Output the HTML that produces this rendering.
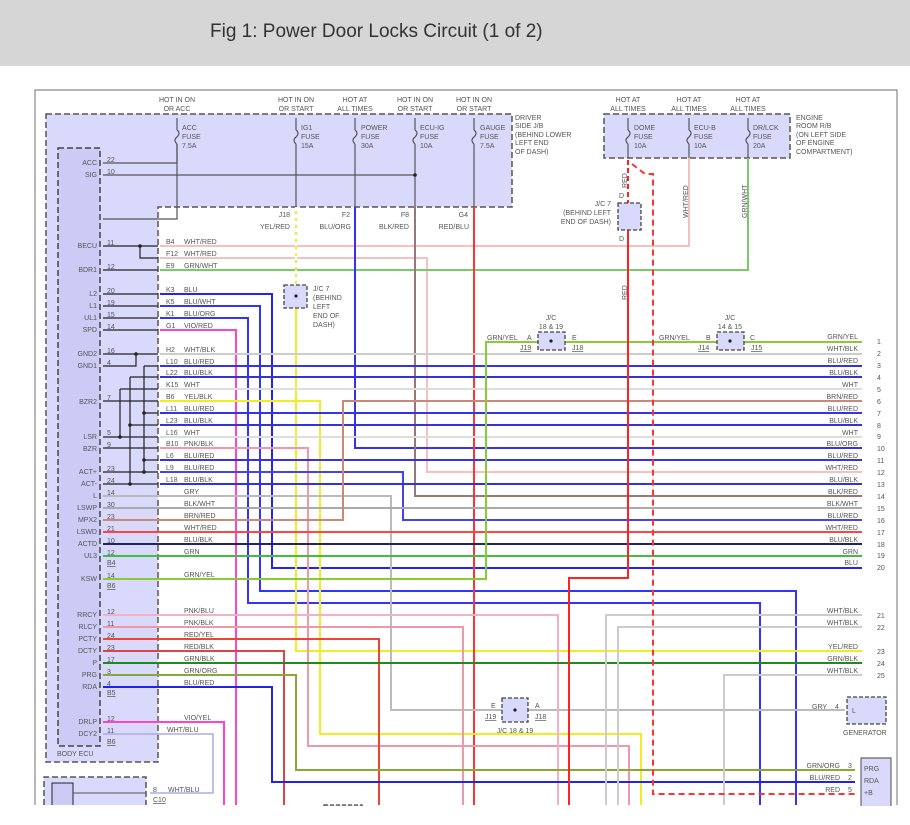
<!DOCTYPE html>
<html><head><meta charset="utf-8"><style>
body{margin:0;width:910px;height:820px;overflow:hidden;background:#fff;font-family:"Liberation Sans",sans-serif}
svg text{font-family:"Liberation Sans",sans-serif;font-size:7px;fill:#555}
.r{text-anchor:end}
.u{text-decoration:underline}
</style></head><body>
<svg width="910" height="820" viewBox="0 0 910 820" xmlns="http://www.w3.org/2000/svg">
<rect x="0" y="0" width="910" height="66" fill="#d6d6d6"/>
<text x="210" y="37" style="font-size:19px;fill:#333">Fig 1: Power Door Locks Circuit (1 of 2)</text>
<path d="M35 805V90H897V805" fill="none" stroke="#888" stroke-width="1.2"/>
<path d="M46 114H512V207H158V762H46Z" fill="#d9d9fc" stroke="#555" stroke-width="1.5" stroke-dasharray="6,3"/>
<rect x="58" y="148" width="42" height="598" fill="#cbcbf6" stroke="#444" stroke-width="1.5" stroke-dasharray="6,3"/>
<text x="57" y="756">BODY ECU</text>
<rect x="604" y="114" width="186" height="44" fill="#d9d9fc" stroke="#555" stroke-width="1.5" stroke-dasharray="6,3"/>
<path d="M44 805V777H146V805" fill="#d9d9fc" stroke="#555" stroke-width="1.5" stroke-dasharray="6,3"/>
<path d="M52 805V783H73V805" fill="#cbcbf6" stroke="#222" stroke-width="1"/>
<line x1="73" y1="793" x2="146" y2="793" stroke="#555"/>
<text x="153" y="792">8</text><text x="153" y="802" class="u">C10</text>
<g>
<text x="177" y="102" style="text-anchor:middle">HOT IN ON</text><text x="177" y="111" style="text-anchor:middle">OR ACC</text>
<text x="296" y="102" style="text-anchor:middle">HOT IN ON</text><text x="296" y="111" style="text-anchor:middle">OR START</text>
<text x="355" y="102" style="text-anchor:middle">HOT AT</text><text x="355" y="111" style="text-anchor:middle">ALL TIMES</text>
<text x="415" y="102" style="text-anchor:middle">HOT IN ON</text><text x="415" y="111" style="text-anchor:middle">OR START</text>
<text x="474" y="102" style="text-anchor:middle">HOT IN ON</text><text x="474" y="111" style="text-anchor:middle">OR START</text>
<text x="628" y="102" style="text-anchor:middle">HOT AT</text><text x="628" y="111" style="text-anchor:middle">ALL TIMES</text>
<text x="689" y="102" style="text-anchor:middle">HOT AT</text><text x="689" y="111" style="text-anchor:middle">ALL TIMES</text>
<text x="748" y="102" style="text-anchor:middle">HOT AT</text><text x="748" y="111" style="text-anchor:middle">ALL TIMES</text>
<text x="182" y="130">ACC</text><text x="182" y="139">FUSE</text><text x="182" y="148">7.5A</text>
<text x="301" y="130">IG1</text><text x="301" y="139">FUSE</text><text x="301" y="148">15A</text>
<text x="361" y="130">POWER</text><text x="361" y="139">FUSE</text><text x="361" y="148">30A</text>
<text x="420" y="130">ECU-IG</text><text x="420" y="139">FUSE</text><text x="420" y="148">10A</text>
<text x="480" y="130">GAUGE</text><text x="480" y="139">FUSE</text><text x="480" y="148">7.5A</text>
<text x="515" y="120">DRIVER</text><text x="515" y="128">SIDE J/B</text><text x="515" y="137">(BEHIND LOWER</text><text x="515" y="145">LEFT END</text><text x="515" y="154">OF DASH)</text>
<text x="634" y="130">DOME</text><text x="634" y="139">FUSE</text><text x="634" y="148">10A</text>
<text x="694" y="130">ECU-B</text><text x="694" y="139">FUSE</text><text x="694" y="148">10A</text>
<text x="753" y="130">DR/LCK</text><text x="753" y="139">FUSE</text><text x="753" y="148">20A</text>
<text x="796" y="120">ENGINE</text><text x="796" y="128">ROOM R/B</text><text x="796" y="137">(ON LEFT SIDE</text><text x="796" y="145">OF ENGINE</text><text x="796" y="154">COMPARTMENT)</text>
<text x="290" y="217" class="r">J18</text><text x="350" y="217" class="r">F2</text><text x="409" y="217" class="r">F8</text><text x="468" y="217" class="r">G4</text>
<text x="290" y="229" class="r">YEL/RED</text><text x="351" y="229" class="r">BLU/ORG</text><text x="409" y="229" class="r">BLK/RED</text><text x="469" y="229" class="r">RED/BLU</text>
</g>
<g stroke="#555" stroke-width="1.2" fill="none">
<path d="M177 118V130M177 144V219H103"/>
<path d="M296 118V130M296 144V207M355 118V130M355 144V207M415 118V130M415 144V207M474 118V130M474 144V207"/>
<path d="M628 118V130M628 144V158M689 118V130M689 144V158M748 118V130M748 144V158"/>
<path d="M177 130q4 3 0 7q-4 3 0 7M296 130q4 3 0 7q-4 3 0 7M355 130q4 3 0 7q-4 3 0 7M415 130q4 3 0 7q-4 3 0 7M474 130q4 3 0 7q-4 3 0 7M628 130q4 3 0 7q-4 3 0 7M689 130q4 3 0 7q-4 3 0 7M748 130q4 3 0 7q-4 3 0 7"/>
<path d="M103 163H177V144M103 175H415"/>
</g>
<circle cx="415" cy="175" r="1.8" fill="#222"/>
<g>
<text x="97" y="165" class="r">ACC</text><text x="97" y="177" class="r">SIG</text>
<text x="97" y="248" class="r">BECU</text><text x="97" y="272" class="r">BDR1</text>
<text x="97" y="296" class="r">L2</text><text x="97" y="308" class="r">L1</text><text x="97" y="320" class="r">UL1</text><text x="97" y="332" class="r">SPD</text>
<text x="97" y="356" class="r">GND2</text><text x="97" y="368" class="r">GND1</text><text x="97" y="404" class="r">BZR2</text>
<text x="97" y="439" class="r">LSR</text><text x="97" y="451" class="r">BZR</text><text x="97" y="474" class="r">ACT+</text><text x="97" y="486" class="r">ACT-</text>
<text x="97" y="498" class="r">L</text><text x="97" y="510" class="r">LSWP</text><text x="97" y="522" class="r">MPX2</text><text x="97" y="534" class="r">LSWD</text>
<text x="97" y="546" class="r">ACTD</text><text x="97" y="558" class="r">UL3</text><text x="97" y="581" class="r">KSW</text>
<text x="97" y="617" class="r">RRCY</text><text x="97" y="629" class="r">RLCY</text><text x="97" y="641" class="r">PCTY</text><text x="97" y="653" class="r">DCTY</text>
<text x="97" y="665" class="r">P</text><text x="97" y="677" class="r">PRG</text><text x="97" y="689" class="r">RDA</text>
<text x="97" y="724" class="r">DRLP</text><text x="97" y="736" class="r">DCY2</text>
<text x="107" y="162">22</text><text x="107" y="174">10</text><text x="107" y="245">11</text><text x="107" y="269">12</text>
<text x="107" y="293">20</text><text x="107" y="305">19</text><text x="107" y="317">15</text><text x="107" y="329">14</text>
<text x="107" y="353">16</text><text x="107" y="365">4</text><text x="107" y="400">7</text><text x="107" y="435">5</text><text x="107" y="447">9</text>
<text x="107" y="471">23</text><text x="107" y="483">24</text><text x="107" y="495">14</text><text x="107" y="507">30</text><text x="107" y="519">23</text>
<text x="107" y="531">21</text><text x="107" y="543">10</text><text x="107" y="555">12</text><text x="107" y="578">14</text>
<text x="107" y="614">12</text><text x="107" y="626">11</text><text x="107" y="638">24</text><text x="107" y="650">23</text>
<text x="107" y="662">17</text><text x="107" y="674">3</text><text x="107" y="686">4</text><text x="107" y="721">12</text><text x="107" y="733">11</text>
<text x="107" y="565" class="u">B4</text><text x="107" y="588" class="u">B6</text><text x="107" y="695" class="u">B5</text><text x="107" y="744" class="u">B6</text>
</g>
<g stroke="#222" stroke-width="1.2" fill="none">
<path d="M103 246H158M140 246V258H158M103 270H158M103 294H158M103 306H158M103 318H158M103 330H158"/>
<path d="M103 354H158M136 354V366H103M144 366H158M144 366V472M144 413H158M144 460H158"/>
<path d="M130 377H158M130 377V484M130 425H158M120 389H158M120 389V437"/>
<path d="M103 401H158M103 437H158M103 448H158M103 472H158M103 484H158"/>
</g>
<g fill="#222"><circle cx="140" cy="246" r="1.8"/><circle cx="136" cy="354" r="1.8"/><circle cx="144" cy="413" r="1.8"/><circle cx="144" cy="460" r="1.8"/><circle cx="144" cy="472" r="1.8"/><circle cx="130" cy="425" r="1.8"/><circle cx="130" cy="484" r="1.8"/><circle cx="120" cy="437" r="1.8"/></g>
<g fill="none" stroke-width="2">
<path d="M160 246H689V158" stroke="#f4c0c0"/>
<path d="M160 258H427V472H862" stroke="#f4c0c0"/>
<path d="M160 270H748V158" stroke="#7c6"/>
<path d="M160 294H272V568H862" stroke="#22f"/>
<path d="M160 306H260V591H796V805" stroke="#33f"/>
<path d="M160 318H248V603H760V805" stroke="#33f"/>
<path d="M160 330H236V805" stroke="#f4c"/>
<path d="M296 207V285M296 308V651H862" stroke="#ee2"/>
<path d="M296 207V285" stroke="#fff" stroke-dasharray="4,3"/>
<path d="M355 207V448H862" stroke="#33e"/>
<path d="M415 207V496H862" stroke="#977"/>
<path d="M474 207V805" stroke="#f33"/>
<path d="M160 354H862" stroke="#ccc"/>
<path d="M160 366H862" stroke="#33e"/>
<path d="M160 377H862" stroke="#33d"/>
<path d="M160 389H862" stroke="#ddd"/>
<path d="M160 401H320V734H641V805" stroke="#ee2"/>
<path d="M160 413H862" stroke="#33e"/>
<path d="M160 425H862" stroke="#33d"/>
<path d="M160 437H862" stroke="#ddd"/>
<path d="M160 448H308V746H629V805" stroke="#e9a"/>
<path d="M160 460H862" stroke="#33e"/>
<path d="M160 472H403V520H862" stroke="#44e"/>
<path d="M160 484H862" stroke="#33d"/>
<path d="M103 496H391V710H845" stroke="#bbb"/>
<path d="M103 508H862" stroke="#aaa"/>
<path d="M103 520H343V401H862" stroke="#c87"/>
<path d="M103 532H862" stroke="#f44"/>
<path d="M103 544H862" stroke="#226"/>
<path d="M103 556H862" stroke="#4b4"/>
<path d="M103 579H486V342H862" stroke="#8c3"/>
<path d="M103 615H558V805" stroke="#f4b0c8"/>
<path d="M103 627H463V805" stroke="#e9a"/>
<path d="M103 639H379V805" stroke="#e43"/>
<path d="M103 651H284V805" stroke="#d44"/>
<path d="M103 663H862" stroke="#282"/>
<path d="M103 675H296V770H855" stroke="#8a3"/>
<path d="M103 687H272V782H855" stroke="#22e"/>
<path d="M103 722H224V805" stroke="#f4c"/>
<path d="M103 734H213V793H150" stroke="#aae" stroke-width="1.5"/>
<path d="M606 805V615H862M618 805V627H862M724 805V675H862" stroke="#ccc"/>
<path d="M628 230V578H569V805" stroke="#f22"/>
<path d="M628 160V203" stroke="#f22" stroke-dasharray="5,3"/>
<path d="M632 164L645 174H653V794H855" stroke="#f33" stroke-dasharray="6,4"/>
</g>
<g fill="#d9d9fc" stroke="#444" stroke-width="1.3" stroke-dasharray="4,2">
<rect x="284" y="285" width="23" height="23"/><rect x="618" y="203" width="23" height="27"/>
<rect x="538" y="332" width="27" height="18"/><rect x="717" y="332" width="27" height="18"/>
<rect x="502" y="698" width="26" height="24"/><rect x="847" y="697" width="39" height="27"/>
<rect x="324" y="805" width="38" height="20"/>
</g>
<path d="M861 820V758H891V820" fill="#d9d9fc" stroke="#666" stroke-width="1.2"/>
<g font-size="7">
<text x="313" y="291">J/C 7</text><text x="313" y="300">(BEHIND</text><text x="313" y="309">LEFT</text><text x="313" y="318">END OF</text><text x="313" y="327">DASH)</text>
<text x="611" y="206" class="r">J/C 7</text><text x="611" y="215" class="r">(BEHIND LEFT</text><text x="611" y="224" class="r">END OF DASH)</text>
<text x="619" y="198">D</text><text x="619" y="241">D</text>
<text x="551" y="320" style="text-anchor:middle">J/C</text><text x="551" y="329" style="text-anchor:middle">18 &amp; 19</text>
<text x="730" y="320" style="text-anchor:middle">J/C</text><text x="730" y="329" style="text-anchor:middle">14 &amp; 15</text>
<text x="487" y="340">GRN/YEL</text><text x="527" y="340">A</text><text x="572" y="340">E</text><text x="520" y="350" class="u">J19</text><text x="572" y="350" class="u">J18</text>
<text x="659" y="340">GRN/YEL</text><text x="706" y="340">B</text><text x="750" y="340">C</text><text x="698" y="350" class="u">J14</text><text x="751" y="350" class="u">J15</text>
<text x="491" y="708">E</text><text x="535" y="708">A</text><text x="485" y="719" class="u">J19</text><text x="535" y="719" class="u">J18</text>
<text x="515" y="733" style="text-anchor:middle">J/C 18 &amp; 19</text>
<text x="812" y="709">GRY</text><text x="835" y="709">4</text><text x="852" y="713">L</text><text x="843" y="735">GENERATOR</text>
<text x="840" y="768" class="r">GRN/ORG</text><text x="840" y="780" class="r">BLU/RED</text><text x="840" y="792" class="r">RED</text>
<text x="848" y="768">3</text><text x="848" y="780">2</text><text x="848" y="792">5</text>
<text x="864" y="771">PRG</text><text x="864" y="783">RDA</text><text x="864" y="795">+B</text>
<text x="166" y="244">B4</text><text x="184" y="244">WHT/RED</text><text x="166" y="256">F12</text><text x="184" y="256">WHT/RED</text><text x="166" y="268">E9</text><text x="184" y="268">GRN/WHT</text>
<text x="166" y="292">K3</text><text x="184" y="292">BLU</text><text x="166" y="304">K5</text><text x="184" y="304">BLU/WHT</text><text x="166" y="316">K1</text><text x="184" y="316">BLU/ORG</text><text x="166" y="328">G1</text><text x="184" y="328">VIO/RED</text>
<text x="166" y="352">H2</text><text x="184" y="352">WHT/BLK</text><text x="166" y="364">L10</text><text x="184" y="364">BLU/RED</text><text x="166" y="375">L22</text><text x="184" y="375">BLU/BLK</text>
<text x="166" y="387">K15</text><text x="184" y="387">WHT</text><text x="166" y="399">B6</text><text x="184" y="399">YEL/BLK</text><text x="166" y="411">L11</text><text x="184" y="411">BLU/RED</text>
<text x="166" y="423">L23</text><text x="184" y="423">BLU/BLK</text><text x="166" y="435">L16</text><text x="184" y="435">WHT</text><text x="166" y="446">B10</text><text x="184" y="446">PNK/BLK</text>
<text x="166" y="458">L6</text><text x="184" y="458">BLU/RED</text><text x="166" y="470">L9</text><text x="184" y="470">BLU/RED</text><text x="166" y="482">L18</text><text x="184" y="482">BLU/BLK</text>
<text x="184" y="494">GRY</text><text x="184" y="506">BLK/WHT</text><text x="184" y="518">BRN/RED</text><text x="184" y="530">WHT/RED</text><text x="184" y="542">BLU/BLK</text><text x="184" y="554">GRN</text><text x="184" y="577">GRN/YEL</text>
<text x="184" y="613">PNK/BLU</text><text x="184" y="625">PNK/BLK</text><text x="184" y="637">RED/YEL</text><text x="184" y="649">RED/BLK</text><text x="184" y="661">GRN/BLK</text><text x="184" y="673">GRN/ORG</text><text x="184" y="685">BLU/RED</text>
<text x="184" y="720">VIO/YEL</text><text x="167" y="732">WHT/BLU</text><text x="168" y="792">WHT/BLU</text>
<g style="text-anchor:end">
<text x="858" y="339">GRN/YEL</text><text x="858" y="351">WHT/BLK</text><text x="858" y="363">BLU/RED</text><text x="858" y="375">BLU/BLK</text><text x="858" y="387">WHT</text>
<text x="858" y="399">BRN/RED</text><text x="858" y="411">BLU/RED</text><text x="858" y="423">BLU/BLK</text><text x="858" y="435">WHT</text><text x="858" y="446">BLU/ORG</text>
<text x="858" y="458">BLU/RED</text><text x="858" y="470">WHT/RED</text><text x="858" y="482">BLU/BLK</text><text x="858" y="494">BLK/RED</text><text x="858" y="506">BLK/WHT</text>
<text x="858" y="518">BLU/RED</text><text x="858" y="530">WHT/RED</text><text x="858" y="542">BLU/BLK</text><text x="858" y="554">GRN</text><text x="858" y="565">BLU</text>
<text x="858" y="613">WHT/BLK</text><text x="858" y="625">WHT/BLK</text><text x="858" y="649">YEL/RED</text><text x="858" y="661">GRN/BLK</text><text x="858" y="673">WHT/BLK</text>
</g>
<text x="877" y="344">1</text><text x="877" y="356">2</text><text x="877" y="368">3</text><text x="877" y="380">4</text><text x="877" y="392">5</text><text x="877" y="404">6</text><text x="877" y="416">7</text><text x="877" y="428">8</text><text x="877" y="439">9</text><text x="877" y="451">10</text>
<text x="877" y="463">11</text><text x="877" y="475">12</text><text x="877" y="487">13</text><text x="877" y="499">14</text><text x="877" y="511">15</text><text x="877" y="523">16</text><text x="877" y="535">17</text><text x="877" y="547">18</text><text x="877" y="558">19</text><text x="877" y="570">20</text>
<text x="877" y="618">21</text><text x="877" y="630">22</text><text x="877" y="654">23</text><text x="877" y="666">24</text><text x="877" y="678">25</text>
<text transform="translate(627,188) rotate(-90)">RED</text>
<text transform="translate(627,300) rotate(-90)">RED</text>
<text transform="translate(688,218) rotate(-90)">WHT/RED</text>
<text transform="translate(747,218) rotate(-90)">GRN/WHT</text>
</g>
<g fill="#222"><circle cx="296" cy="296" r="1.6"/><circle cx="551" cy="341" r="1.6"/><circle cx="730" cy="341" r="1.6"/><circle cx="515" cy="710" r="1.6"/></g>
<rect x="0" y="806" width="910" height="14" fill="#fff"/>
</svg>
</body></html>
